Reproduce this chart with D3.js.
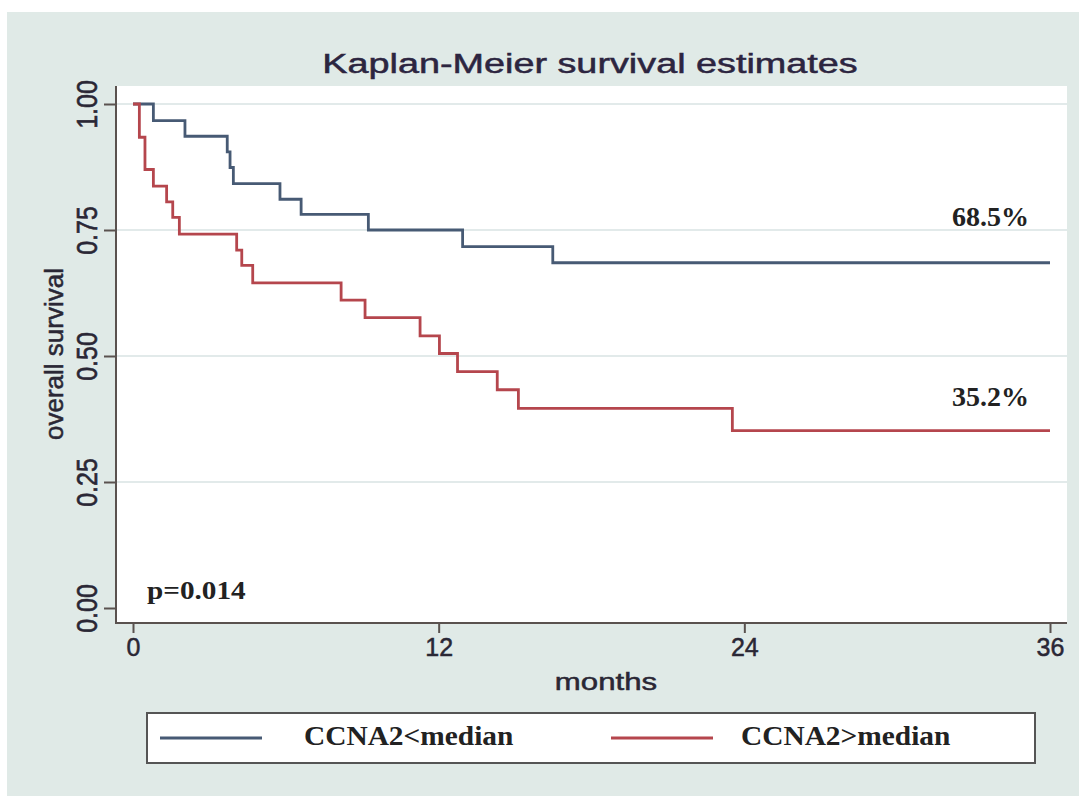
<!DOCTYPE html>
<html>
<head>
<meta charset="utf-8">
<script src="https://cdn.jsdelivr.net/npm/d3@7"></script>
<style>
  body { margin: 0; background: #fff; }
  svg { display: block; }
</style>
</head>
<body>
<svg width="1079" height="796"></svg>
<script>
// Kaplan-Meier curves (months, survival)
var lowTimes = [0, 0.8, 2.04, 3.7, 3.81, 3.94, 5.77, 6.6, 9.24, 12.94, 16.48];
var lowSurv  = [1, 0.967, 0.936, 0.905, 0.874, 0.842, 0.811, 0.781, 0.75, 0.717, 0.685];

var highTimes = [0, 0.25, 0.47, 0.8, 1.32, 1.56, 1.82, 4.07, 4.27, 4.7, 8.17, 9.11, 11.27, 12.03, 12.74, 14.3, 15.13, 23.53];
var highSurv  = [1, 0.934, 0.87, 0.837, 0.806, 0.775, 0.742, 0.71, 0.68, 0.645, 0.611, 0.576, 0.54, 0.505, 0.469, 0.433, 0.396, 0.352];

var followUp = 36;
var xTicks = [0, 12, 24, 36];
var yTicks = [0, 0.25, 0.5, 0.75, 1];
var seriesNames = ["CCNA2<median", "CCNA2>median"];
var endLabels = ["68.5%", "35.2%"];
var pText = "p=0.014";

var blue = "#475a74", red = "#b5464d", axisCol = "#5a524f", inkCol = "#2a2735";

var svg = d3.select("svg");

// outer Stata-style background
svg.append("rect")
    .attr("x", 7).attr("y", 12)
    .attr("width", 1072).attr("height", 784)
    .attr("fill", "#e0eae7");

var plot = {left: 116, right: 1067, top: 86, bottom: 623};

svg.append("rect")
    .attr("x", plot.left).attr("y", plot.top)
    .attr("width", plot.right - plot.left).attr("height", plot.bottom - plot.top)
    .attr("fill", "#ffffff");

var x = d3.scaleLinear().domain([0, 36]).range([133, 1050]);
var y = d3.scaleLinear().domain([0, 1]).range([608, 104]);

// grid lines (none on 0)
svg.append("g")
  .selectAll("line")
  .data(yTicks.filter(function(d) { return d > 0; }))
  .enter().append("line")
    .attr("x1", plot.left).attr("x2", plot.right)
    .attr("y1", function(d) { return y(d); })
    .attr("y2", function(d) { return y(d); })
    .attr("stroke", "#e2eaea")
    .attr("stroke-width", 2);

function text(sel, str, px, py, o) {
  var fill = o.fill || inkCol;
  return sel.append("text")
    .attr("transform", "translate(" + px + "," + py + ") scale(" + (o.sx || 1) + ",1)" + (o.rot ? " rotate(-90)" : ""))
    .attr("text-anchor", o.anchor || "start")
    .style("font-family", o.serif ? "'Liberation Serif', 'Times New Roman', serif" : "'Liberation Sans', Arial, sans-serif")
    .style("font-weight", o.bold ? "bold" : "normal")
    .style("font-size", o.size + "px")
    .attr("fill", fill)
    .attr("stroke", o.bold ? null : fill)
    .attr("stroke-width", o.bold ? null : 0.5)
    .text(str);
}

// axes
var yAxis = d3.axisLeft(y).tickValues(yTicks).tickFormat(d3.format(".2f")).tickSize(12).tickPadding(0);
var gy = svg.append("g").attr("transform", "translate(" + plot.left + ",0)").call(yAxis);
gy.select(".domain").remove();
gy.selectAll("line").attr("stroke", axisCol).attr("stroke-width", 2);
gy.selectAll("text")
    .attr("x", null).attr("dy", null)
    .attr("transform", "translate(-19,0) scale(1.2,1) rotate(-90)")
    .attr("text-anchor", "middle")
    .style("font-family", "'Liberation Sans', Arial, sans-serif")
    .style("font-size", "25px")
    .attr("fill", inkCol)
    .attr("stroke", inkCol)
    .attr("stroke-width", 0.5);

var xAxis = d3.axisBottom(x).tickValues(xTicks).tickSize(10);
var gx = svg.append("g").attr("transform", "translate(0," + plot.bottom + ")").call(xAxis);
gx.select(".domain").remove();
gx.selectAll("line").attr("stroke", axisCol).attr("stroke-width", 2);
gx.selectAll("text")
    .attr("y", 33).attr("dy", null)
    .style("font-family", "'Liberation Sans', Arial, sans-serif")
    .style("font-size", "25px")
    .attr("fill", inkCol)
    .attr("stroke", inkCol)
    .attr("stroke-width", 0.5);

svg.append("path")
    .attr("d", "M" + plot.left + "," + plot.top + "V" + plot.bottom + "H" + plot.right)
    .attr("fill", "none")
    .attr("stroke", axisCol)
    .attr("stroke-width", 2);

// survival curves
var line = d3.line()
    .x(function(d) { return x(d[0]); })
    .y(function(d) { return y(d[1]); })
    .curve(d3.curveStepAfter);

function steps(times, surv) {
  var pts = times.map(function(t, i) { return [t, surv[i]]; });
  pts.push([followUp, surv[surv.length - 1]]);
  return pts;
}

[[lowTimes, lowSurv, blue], [highTimes, highSurv, red]].forEach(function(s) {
  svg.append("path")
      .datum(steps(s[0], s[1]))
      .attr("d", line)
      .attr("fill", "none")
      .attr("stroke", s[2])
      .attr("stroke-width", 2.8);
});

// titles
text(svg, "Kaplan-Meier survival estimates", 590, 73, {size: 28, sx: 1.35, anchor: "middle", fill: "#2c2540"});
text(svg, "months", 606, 690, {size: 24, sx: 1.3, anchor: "middle"});
text(svg, "overall survival", 63, 354, {size: 26, rot: true, anchor: "middle"});

// annotations
text(svg, endLabels[0], 1029, 226, {size: 28, serif: true, bold: true, anchor: "end", fill: "#222"});
text(svg, endLabels[1], 1029, 406, {size: 28, serif: true, bold: true, anchor: "end", fill: "#222"});
text(svg, pText, 147, 599, {size: 25, sx: 1.17, serif: true, bold: true, fill: "#222"});

// legend
var lg = svg.append("g");
lg.append("rect")
    .attr("x", 147).attr("y", 713)
    .attr("width", 888).attr("height", 50)
    .attr("fill", "#fff")
    .attr("stroke", "#555")
    .attr("stroke-width", 2);

var legendItems = [
  {name: seriesNames[0], col: blue, x0: 160, tx: 304},
  {name: seriesNames[1], col: red, x0: 611, tx: 741}
];
legendItems.forEach(function(d) {
  lg.append("line")
      .attr("x1", d.x0).attr("x2", d.x0 + 102)
      .attr("y1", 738).attr("y2", 738)
      .attr("stroke", d.col)
      .attr("stroke-width", 3);
  text(lg, d.name, d.tx, 745, {size: 28, sx: 1.05, serif: true, bold: true, fill: "#222"});
});
</script>
</body>
</html>
